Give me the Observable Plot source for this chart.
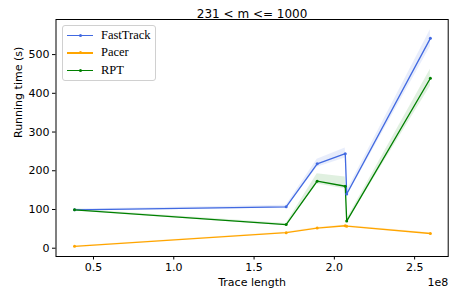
<!DOCTYPE html>
<html>
<head>
<meta charset="utf-8">
<script src="https://cdn.jsdelivr.net/npm/d3@7"></script>
<script src="https://cdn.jsdelivr.net/npm/@observablehq/plot@0.6"></script>
<style>
  body { margin: 0; background: #fff; }
  #wrap { position: relative; width: 451px; height: 295px; font-family: "DejaVu Sans", sans-serif; }
  #legend {
    position: absolute; left: 62px; top: 25px; width: 92px; height: 54px;
    border: 1px solid #d0d0d0; border-radius: 3px; background: rgba(255,255,255,0.8);
    font-family: "Liberation Serif", serif; font-size: 12.5px; color: #000;
  }
  .row { position: absolute; left: 0; height: 17px; width: 100%; }
  .row .ln { position: absolute; left: 4px; top: 8px; width: 26px; height: 1.4px; }
  .row .dt { position: absolute; left: 15.5px; top: 7.2px; width: 3px; height: 3px; border-radius: 50%; }
  .row .tx { position: absolute; left: 38px; top: 0px; line-height: 17px; }
</style>
</head>
<body>
<div id="wrap"></div>
<script>
const xs = [0.382e8, 1.70e8, 1.893e8, 2.068e8, 2.077e8, 2.598e8];
const fastTrack = [99, 107, 218, 244, 140, 542];
const fastLo = [97, 103, 209, 233, 133, 520];
const fastHi = [101, 111, 230, 259, 148, 564];
const pacer = [5, 40, 52, 58, 57, 38];
const pacerLo = [4, 38, 50, 55, 55, 36];
const pacerHi = [6, 42, 54, 60, 59, 40];
const rpt = [99, 61, 173, 160, 70, 439];
const rptLo = [97, 58, 166, 153, 66, 418];
const rptHi = [101, 64, 192, 184, 75, 462];
const seriesNames = ["FastTrack", "Pacer", "RPT"];
const colors = ["#4169e1", "#ffa500", "#008000"];
const xTicks = [0.5e8, 1.0e8, 1.5e8, 2.0e8, 2.5e8];
const yTicks = [0, 100, 200, 300, 400, 500];

const seriesVals = [fastTrack, pacer, rpt];
const seriesLo = [fastLo, pacerLo, rptLo];
const seriesHi = [fastHi, pacerHi, rptHi];
const rows = [];
seriesNames.forEach((s, i) => xs.forEach((x, j) => rows.push({
  series: s, x, y: seriesVals[i][j], lo: seriesLo[i][j], hi: seriesHi[i][j]
})));

const colorScale = {domain: seriesNames, range: colors};

const chart = Plot.plot({
  width: 451, height: 295,
  marginLeft: 55.5, marginRight: 3.3, marginTop: 19, marginBottom: 39,
  style: {fontFamily: "DejaVu Sans, sans-serif", fontSize: "11px", color: "#000", background: "white"},
  x: {domain: [0.2665e8, 2.709e8], ticks: xTicks, tickFormat: d => (d / 1e8).toFixed(1), label: null},
  y: {domain: [-21.4, 590.6], ticks: yTicks, label: null},
  color: colorScale,
  marks: [
    Plot.areaY(rows, {x: "x", y1: "lo", y2: "hi", z: "series", fill: "series", fillOpacity: 0.12}),
    Plot.line(rows, {x: "x", y: "y", z: "series", stroke: "series", strokeWidth: 1.3}),
    Plot.dot(rows, {x: "x", y: "y", fill: "series", r: 1.5}),
    Plot.frame({stroke: "#000", strokeWidth: 1}),
    Plot.axisX({ticks: xTicks, tickFormat: d => (d / 1e8).toFixed(1), tickSize: 3.5, tickPadding: 3, label: null}),
    Plot.axisY({ticks: yTicks, tickSize: 3.5, tickPadding: 3, label: null}),
    Plot.text(["231 < m <= 1000"], {frameAnchor: "top", dy: -10, fontSize: 12, text: d => d}),
    Plot.text(["Trace length"], {frameAnchor: "bottom", dy: 29, fontSize: 11, text: d => d}),
    Plot.text(["1e8"], {frameAnchor: "bottom-right", dy: 29, textAnchor: "end", fontSize: 11, text: d => d}),
    Plot.text(["Running time (s)"], {frameAnchor: "left", dx: -38, rotate: -90, fontSize: 11, text: d => d})
  ]
});

const wrap = document.getElementById("wrap");
wrap.appendChild(chart);

const legend = document.createElement("div");
legend.id = "legend";
seriesNames.forEach((s, i) => {
  const r = document.createElement("div");
  r.className = "row";
  r.style.top = (1 + i * 17.3) + "px";
  r.innerHTML = `<div class="ln" style="background:${colors[i]}"></div><div class="dt" style="background:${colors[i]}"></div><div class="tx">${s}</div>`;
  legend.appendChild(r);
});
wrap.appendChild(legend);
</script>
</body>
</html>
